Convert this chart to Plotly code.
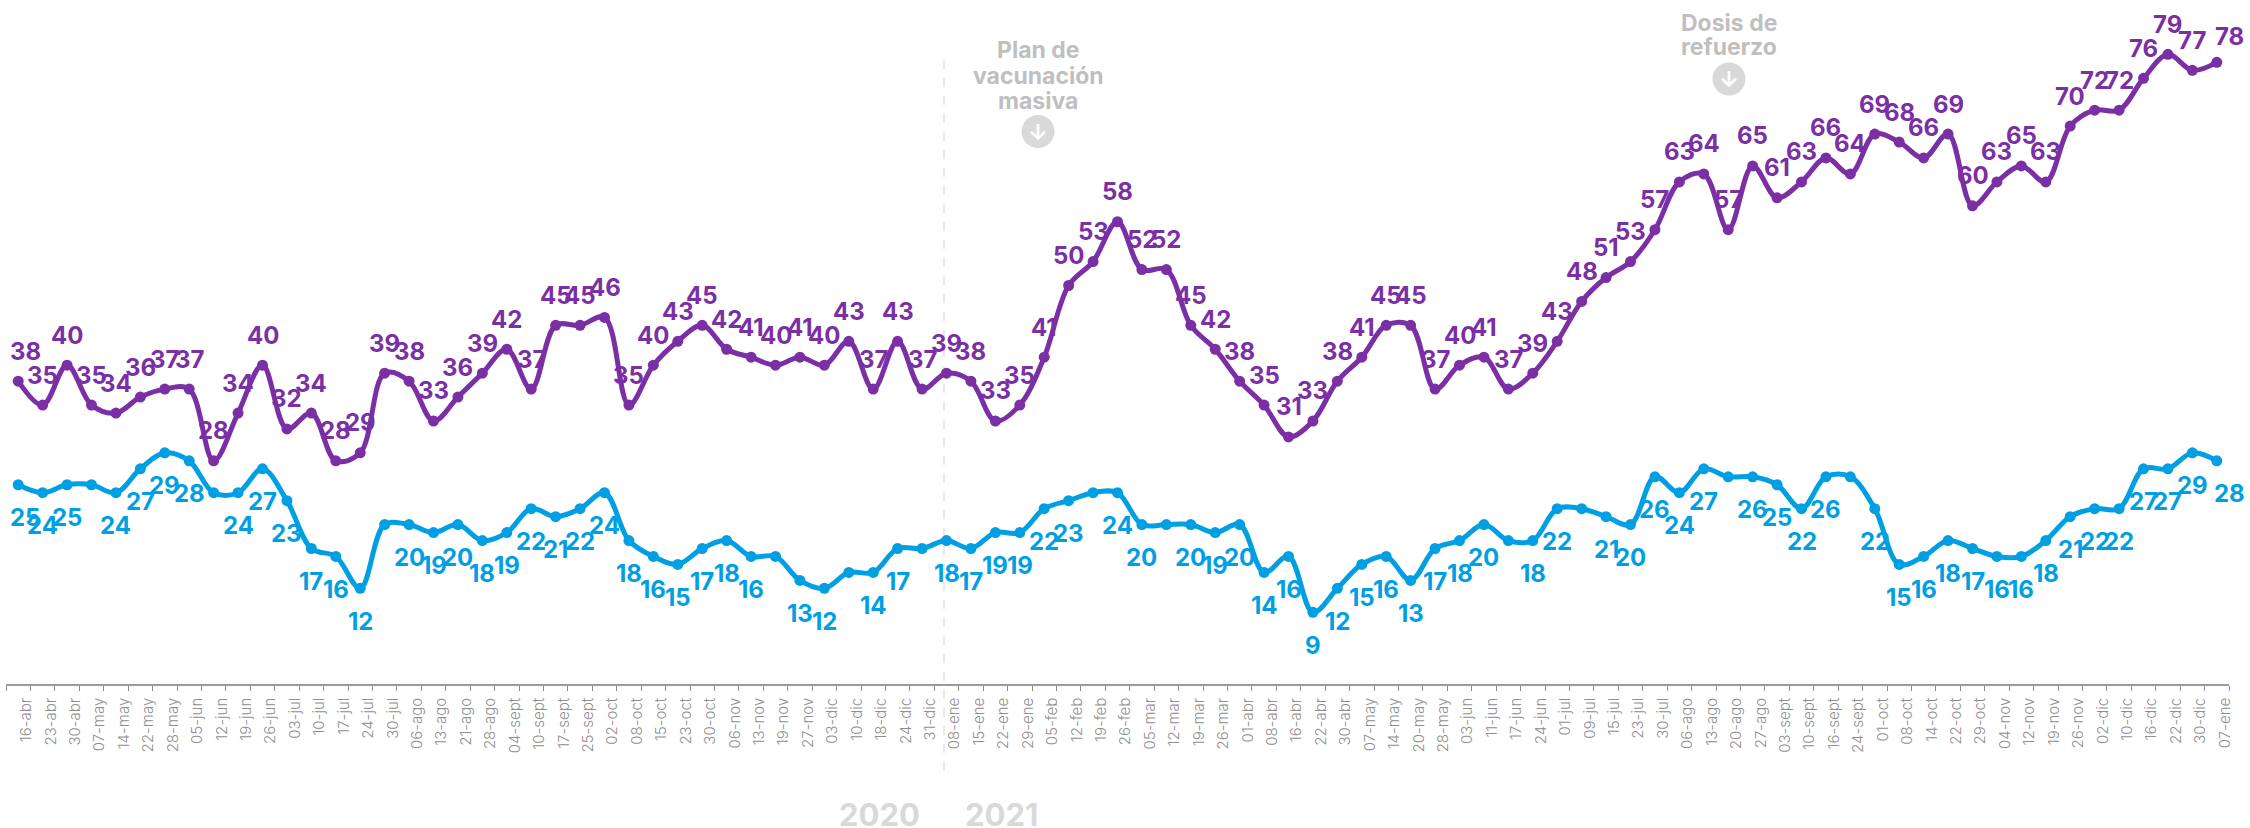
import plotly.graph_objects as go

# ---- data ----
dates_2020 = ["16-abr","23-abr","30-abr","07-may","14-may","22-may","28-may","05-jun","12-jun","19-jun","26-jun",
              "03-jul","10-jul","17-jul","24-jul","30-jul","06-ago","13-ago","21-ago","28-ago","04-sept","10-sept",
              "17-sept","25-sept","02-oct","08-oct","15-oct","23-oct","30-oct","06-nov","13-nov","19-nov","27-nov",
              "03-dic","10-dic","18-dic","24-dic","31-dic"]
dates_2021 = ["08-ene","15-ene","22-ene","29-ene","05-feb","12-feb","19-feb","26-feb","05-mar","12-mar","19-mar",
              "26-mar","01-abr","08-abr","16-abr","22-abr","30-abr","07-may","14-may","20-may","28-may","03-jun",
              "11-jun","17-jun","24-jun","01-jul","09-jul","15-jul","23-jul","30-jul","06-ago","13-ago","20-ago",
              "27-ago","03-sept","10-sept","16-sept","24-sept","01-oct","08-oct","14-oct","22-oct","29-oct","04-nov",
              "12-nov","19-nov","26-nov","02-dic","10-dic","16-dic","22-dic","30-dic"]
dates_2022 = ["07-ene"]
labels = dates_2020 + dates_2021 + dates_2022
categories = ([f"2020 {d}" for d in dates_2020] + [f"2021 {d}" for d in dates_2021]
              + [f"2022 {d}" for d in dates_2022])

purple_values = [38,35,40,35,34,36,37,37,28,34,40,32,34,28,29,39,38,33,36,39,42,37,45,45,46,35,40,43,45,42,41,40,41,40,
                 43,37,43,37,39,38,33,35,41,50,53,58,52,52,45,42,38,35,31,33,38,41,45,45,37,40,41,37,39,43,48,51,53,57,
                 63,64,57,65,61,63,66,64,69,68,66,69,60,63,65,63,70,72,72,76,79,77,78]
blue_values = [25,24,25,25,24,27,29,28,24,24,27,23,17,16,12,20,20,19,20,18,19,22,21,22,24,18,16,15,17,18,16,16,13,12,
               14,14,17,17,18,17,19,19,22,23,24,24,20,20,20,19,20,14,16,9,12,15,16,13,17,18,20,18,18,22,22,21,20,26,
               24,27,26,26,25,22,26,26,22,15,16,18,17,16,16,18,21,22,22,27,27,29,28]
blue_hidden_labels = [3,8,15,31,34,37,44,47,61,64,70,75]
assert len(labels) == len(purple_values) == len(blue_values) == 91

PURPLE = "#7B2FA5"
BLUE = "#009FE3"
FONT = "Inter"
W, H = 2250, 828
L, R, AXIS_Y = 6, 2229, 684
PX_PER_UNIT = 7.97

def px(x): return (x - L) / (R - L)
def py(y): return (AXIS_Y - y) / AXIS_Y

fig = go.Figure()
for name, vals, col in (("Purple", purple_values, PURPLE), ("Blue", blue_values, BLUE)):
    fig.add_trace(go.Scatter(x=categories, y=vals, mode="lines+markers", name=name,
                             line=dict(color=col, width=5, shape="spline", smoothing=1.0),
                             marker=dict(color=col, size=11), cliponaxis=False, showlegend=False))

annotations = []
def value_label(i, v, col, yshift):
    last = i == len(categories) - 1
    xshift = 7 if i == 0 else (13 if last else 0)
    annotations.append(dict(x=categories[i], y=v, xref="x", yref="y", text=str(v), showarrow=False,
                            yanchor="middle", xanchor="center", yshift=yshift, xshift=xshift,
                            font=dict(family=FONT, size=24, color=col, weight=700)))

for i, v in enumerate(purple_values):
    value_label(i, v, PURPLE, 26 if i == len(purple_values) - 1 else 30)
for i, v in enumerate(blue_values):
    if i not in blue_hidden_labels:
        value_label(i, v, BLUE, -33)

def free_text(x, y, text, size, color, height=None):
    a = dict(x=px(x), y=py(y), xref="paper", yref="paper", text=text, showarrow=False,
             xanchor="center", yanchor="middle",
             font=dict(family=FONT, size=size, color=color, weight=700))
    if height:
        a["height"] = height
    annotations.append(a)

free_text(879, 814, "2020", 31, "#D9D9D9", height=27)
free_text(1001, 814, "2021", 31, "#D9D9D9", height=27)
for text, y in (("Plan de", 50), ("vacunación", 76), ("masiva", 101)):
    free_text(1038, y, text, 23, "#BFBFBF")
for text, y in (("Dosis de", 22.5), ("refuerzo", 47.5)):
    free_text(1729, y, text, 23, "#BFBFBF")

shapes = [dict(type="line", xref="paper", yref="paper", x0=px(944), x1=px(944), y0=py(60), y1=py(780),
               line=dict(color="#E2E2E2", width=1.5, dash="dash"), layer="below")]
for cx, cy in ((1038, 131.5), (1729, 79)):
    shapes.append(dict(type="circle", xref="paper", yref="paper", x0=px(cx-16.5), x1=px(cx+16.5),
                       y0=py(cy+16.5), y1=py(cy-16.5), fillcolor="#D9D9D9", line=dict(width=0)))
    free_text(cx, cy, "↓", 22, "#FFFFFF")

fig.update_layout(
    width=W, height=H, paper_bgcolor="white", plot_bgcolor="white",
    margin=dict(l=L, r=W-R, t=0, b=H-AXIS_Y),
    annotations=annotations, shapes=shapes,
    xaxis=dict(type="category", categoryorder="array", categoryarray=categories,
               tickmode="array", tickvals=categories, ticktext=labels,
               tickson="boundaries", ticks="outside", ticklen=5, tickwidth=1, tickcolor="#8F8F8F",
               tickangle=-90, ticklabelshift=8, ticklabelstandoff=6,
               tickfont=dict(family=FONT, size=15, color="#8F8F8F", weight=300),
               showline=True, linecolor="#9A9A9A", linewidth=1.5, showgrid=False, zeroline=False,
               range=[-0.5, 90.5]),
    yaxis=dict(range=[0, AXIS_Y / PX_PER_UNIT], visible=False, showgrid=False, zeroline=False),
)
fig.write_html("out.html", config=dict(displayModeBar=False), post_script="document.body.style.margin='0';")
